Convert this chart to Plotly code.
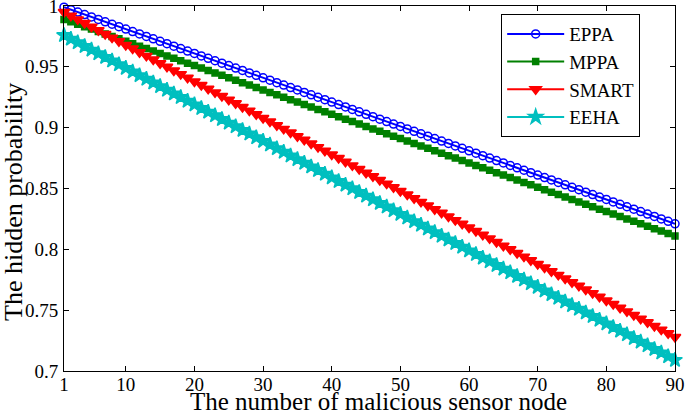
import plotly.graph_objects as go

x_nodes = list(range(1, 91))

eppa = [0.999, 0.997, 0.995, 0.993, 0.991, 0.989, 0.987, 0.985, 0.983, 0.981,
        0.979, 0.977, 0.975, 0.973, 0.971, 0.969, 0.967, 0.965, 0.963, 0.961,
        0.959, 0.957, 0.955, 0.953, 0.951, 0.949, 0.947, 0.945, 0.943, 0.941,
        0.939, 0.937, 0.935, 0.933, 0.931, 0.929, 0.927, 0.925, 0.923, 0.921,
        0.919, 0.917, 0.915, 0.913, 0.911, 0.909, 0.907, 0.905, 0.903, 0.901,
        0.899, 0.897, 0.895, 0.893, 0.891, 0.889, 0.887, 0.885, 0.883, 0.881,
        0.879, 0.877, 0.875, 0.873, 0.871, 0.869, 0.867, 0.865, 0.863, 0.861,
        0.859, 0.857, 0.855, 0.853, 0.851, 0.849, 0.847, 0.845, 0.843, 0.841,
        0.839, 0.837, 0.835, 0.833, 0.831, 0.829, 0.827, 0.825, 0.823, 0.821]

mppa = [0.989, 0.987, 0.985, 0.983, 0.981, 0.979, 0.977, 0.975, 0.973, 0.971,
        0.969, 0.967, 0.965, 0.963, 0.961, 0.959, 0.957, 0.955, 0.953, 0.951,
        0.949, 0.947, 0.945, 0.943, 0.941, 0.939, 0.937, 0.935, 0.933, 0.931,
        0.929, 0.927, 0.925, 0.923, 0.921, 0.919, 0.917, 0.915, 0.913, 0.911,
        0.909, 0.907, 0.905, 0.903, 0.901, 0.899, 0.897, 0.895, 0.893, 0.891,
        0.889, 0.887, 0.885, 0.883, 0.881, 0.879, 0.877, 0.875, 0.873, 0.871,
        0.869, 0.867, 0.865, 0.863, 0.861, 0.859, 0.857, 0.855, 0.853, 0.851,
        0.849, 0.847, 0.845, 0.843, 0.841, 0.839, 0.837, 0.835, 0.833, 0.831,
        0.829, 0.827, 0.825, 0.823, 0.821, 0.819, 0.817, 0.815, 0.813, 0.811]

smart = [0.995, 0.992, 0.989, 0.986, 0.983, 0.980, 0.977, 0.974, 0.971, 0.968,
         0.965, 0.962, 0.959, 0.956, 0.953, 0.950, 0.947, 0.944, 0.941, 0.938,
         0.935, 0.932, 0.929, 0.926, 0.923, 0.920, 0.917, 0.914, 0.911, 0.908,
         0.905, 0.902, 0.899, 0.896, 0.893, 0.890, 0.887, 0.884, 0.881, 0.878,
         0.875, 0.872, 0.869, 0.866, 0.863, 0.860, 0.857, 0.854, 0.851, 0.848,
         0.845, 0.842, 0.839, 0.836, 0.833, 0.830, 0.827, 0.824, 0.821, 0.818,
         0.815, 0.812, 0.809, 0.806, 0.803, 0.800, 0.797, 0.794, 0.791, 0.788,
         0.785, 0.782, 0.779, 0.776, 0.773, 0.770, 0.767, 0.764, 0.761, 0.758,
         0.755, 0.752, 0.749, 0.746, 0.743, 0.740, 0.737, 0.734, 0.731, 0.728]

eeha = [0.976, 0.973, 0.970, 0.967, 0.964, 0.961, 0.958, 0.955, 0.952, 0.949,
        0.946, 0.943, 0.940, 0.937, 0.934, 0.931, 0.928, 0.925, 0.922, 0.919,
        0.916, 0.913, 0.910, 0.907, 0.904, 0.901, 0.898, 0.895, 0.892, 0.889,
        0.886, 0.883, 0.880, 0.877, 0.874, 0.871, 0.868, 0.865, 0.862, 0.859,
        0.856, 0.853, 0.850, 0.847, 0.844, 0.841, 0.838, 0.835, 0.832, 0.829,
        0.826, 0.823, 0.820, 0.817, 0.814, 0.811, 0.808, 0.805, 0.802, 0.799,
        0.796, 0.793, 0.790, 0.787, 0.784, 0.781, 0.778, 0.775, 0.772, 0.769,
        0.766, 0.763, 0.760, 0.757, 0.754, 0.751, 0.748, 0.745, 0.742, 0.739,
        0.736, 0.733, 0.730, 0.727, 0.724, 0.721, 0.718, 0.715, 0.712, 0.709]

x_ticks = [1, 10, 20, 30, 40, 50, 60, 70, 80, 90]
y_ticks = [0.7, 0.75, 0.8, 0.85, 0.9, 0.95, 1.0]
y_tick_labels = ["0.7", "0.75", "0.8", "0.85", "0.9", "0.95", "1"]
x_title = "The number of malicious sensor node"
y_title = "The hidden probability"

FONT = "Liberation Serif"

fig = go.Figure()
series = [
    ("EPPA", eppa, "#0000FF", "circle-open", 8),
    ("MPPA", mppa, "#008000", "square", 6),
    ("SMART", smart, "#FF0000", "triangle-down", 10),
    ("EEHA", eeha, "#00BFBF", "star", 11),
]
for name, vals, col, sym, sz in series:
    fig.add_trace(go.Scatter(
        x=x_nodes, y=vals, mode="lines+markers", name=name,
        line=dict(color=col, width=2),
        marker=dict(symbol=sym, size=sz, color=col,
                    line=dict(color=col, width=1.5)),
        cliponaxis=False,
    ))

axis_common = dict(
    showline=True, linecolor="black", linewidth=1, mirror="ticks",
    ticks="inside", ticklen=5, tickcolor="black", showgrid=False,
    zeroline=False, automargin=False, ticklabeloverflow="allow",
    tickfont=dict(family=FONT, size=19, color="black"),
)
fig.update_xaxes(range=[1, 90], tickvals=x_ticks, ticklabelstandoff=-4,
                 **axis_common)
fig.update_yaxes(range=[0.7, 1.0], tickvals=y_ticks, ticktext=y_tick_labels,
                 ticklabelstandoff=1, **axis_common)

# axis titles placed as annotations for exact positioning
fig.add_annotation(text=x_title, xref="paper", yref="paper",
                   x=0.5147, y=-0.0822, xanchor="center", yanchor="middle",
                   showarrow=False,
                   font=dict(family=FONT, size=25, color="black"))
fig.add_annotation(text=y_title, xref="paper", yref="paper",
                   x=-0.0835, y=0.463, xanchor="center", yanchor="middle",
                   textangle=-90, showarrow=False,
                   font=dict(family=FONT, size=26, color="black"))

fig.update_layout(
    width=685, height=414,
    margin=dict(l=64, r=10, t=6, b=43),
    plot_bgcolor="white", paper_bgcolor="white",
    font=dict(family=FONT, color="black"),
    legend=dict(x=0.943, y=0.978, xanchor="right", yanchor="top",
                bgcolor="white", bordercolor="black", borderwidth=1,
                font=dict(family=FONT, size=19, color="black"),
                itemwidth=57, tracegroupgap=0),
    showlegend=True,
)

fig.write_html("out.html", config={"displayModeBar": False},
               post_script="document.body.style.margin='0';document.body.style.overflow='hidden';")
